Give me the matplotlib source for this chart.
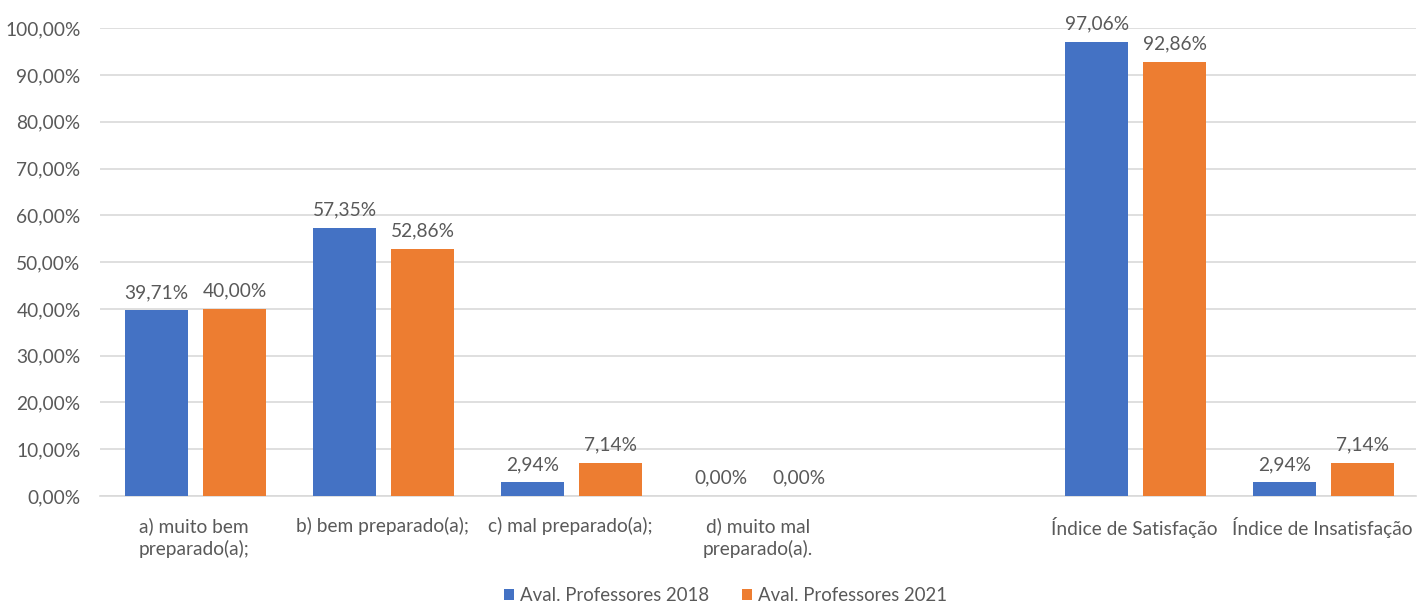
import matplotlib.pyplot as plt
import numpy as np

# categories (empty slot between d) and the indices)
categories = ["a) muito bem\npreparado(a);", "b) bem preparado(a);", "c) mal preparado(a);",
              "d) muito mal\npreparado(a).", "", "Índice de Satisfação", "Índice de Insatisfação"]
aval_2018 = [39.71, 57.35, 2.94, 0.00, None, 97.06, 2.94]
aval_2021 = [40.00, 52.86, 7.14, 0.00, None, 92.86, 7.14]
series_names = ["Aval. Professores 2018", "Aval. Professores 2021"]
colors = ["#4472C4", "#ED7D31"]
TEXT = "#595959"
FS = 13.8

plt.rcParams['font.family'] = ['Lato', 'DejaVu Sans']

fig = plt.figure(figsize=(14.17, 6.06), dpi=100)
ax = fig.add_axes([0.0706, 0.1815, 0.929, 0.772])

x = np.arange(len(categories))
width = 0.335
offsets = [-0.2, 0.215]

def fmt(v):
    return f"{v:.2f}%".replace(".", ",")

for vals, off, col, name in zip([aval_2018, aval_2021], offsets, colors, series_names):
    xs = [xi + off for xi, v in zip(x, vals) if v is not None]
    ys = [v for v in vals if v is not None]
    ax.bar(xs, ys, width=width, color=col, label=name, zorder=3)
    for xi, v in zip(xs, ys):
        ax.text(xi, v + 2.0, fmt(v), ha='center', va='bottom', fontsize=FS, color=TEXT)

ax.set_xlim(-0.5, len(categories) - 0.5)
ax.set_ylim(0, 100)
ax.set_yticks(np.arange(0, 101, 10))
ax.set_yticklabels([fmt(v) for v in np.arange(0, 101, 10)], fontsize=FS, color=TEXT)
ax.set_xticks(x)
ax.set_xticklabels(categories, fontsize=FS, color=TEXT, linespacing=1.35)
ax.tick_params(axis='both', length=0)
ax.tick_params(axis='x', pad=15)
ax.tick_params(axis='y', pad=14)
ax.yaxis.grid(True, color='#D9D9D9', linewidth=1.2, zorder=0)
ax.set_axisbelow(True)
for s in ['top', 'right', 'left']:
    ax.spines[s].set_visible(False)
ax.spines['bottom'].set_color('#D9D9D9')
ax.spines['bottom'].set_linewidth(1.2)

fig.legend(loc='lower center', bbox_to_anchor=(0.512, -0.025), ncol=2, frameon=False,
           fontsize=13.4, handlelength=0.55, handleheight=0.55, handletextpad=0.3,
           columnspacing=1.8, labelcolor=TEXT)

fig.savefig("out.png", dpi=100)
